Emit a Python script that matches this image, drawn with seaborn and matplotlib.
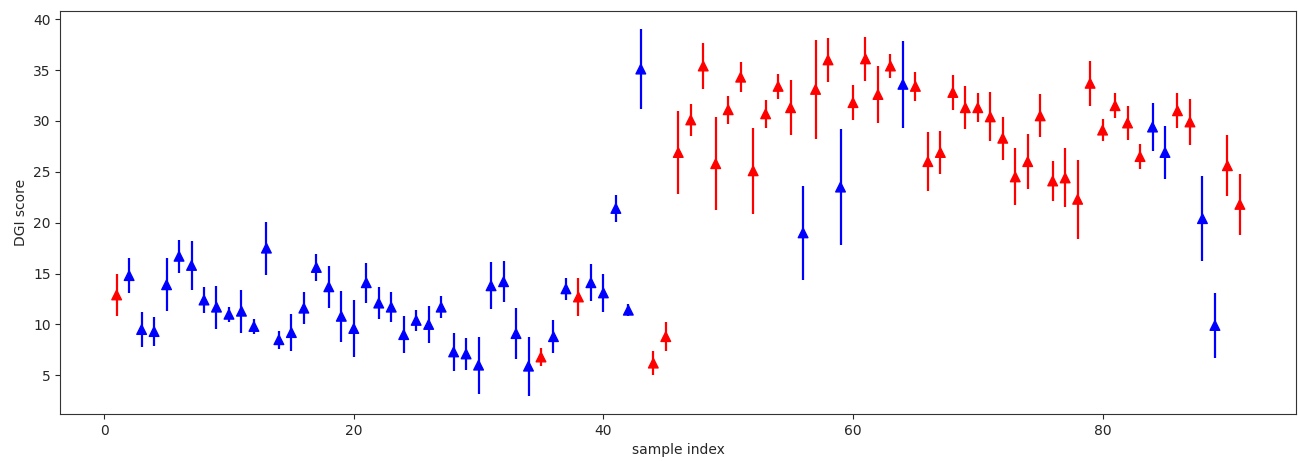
import numpy as np
import pandas as pd
import matplotlib
matplotlib.use("Agg")
import matplotlib.pyplot as plt
import seaborn as sns

sample_index = list(range(1, 92))

dgi_mean = [
    12.9, 14.8, 9.5, 9.3, 13.9, 16.7, 15.8, 12.4, 11.7, 11.0,
    11.3, 9.8, 17.5, 8.5, 9.2, 11.6, 15.6, 13.7, 10.8, 9.6,
    14.1, 12.1, 11.7, 9.0, 10.4, 10.0, 11.7, 7.3, 7.1, 6.0,
    13.8, 14.2, 9.1, 5.9, 6.8, 8.8, 13.5, 12.7, 14.1, 13.1,
    21.4, 11.4, 35.1, 6.2, 8.8, 26.9, 30.1, 35.4, 25.8, 31.1,
    34.3, 25.1, 30.7, 33.4, 31.3, 19.0, 33.1, 36.0, 23.5, 31.8,
    36.1, 32.6, 35.4, 33.6, 33.4, 26.0, 26.9, 32.8, 31.3, 31.3,
    30.4, 28.3, 24.5, 26.0, 30.5, 24.1, 24.4, 22.3, 33.7, 29.1,
    31.5, 29.8, 26.5, 29.4, 26.9, 31.0, 29.9, 20.4, 9.9, 25.6,
    21.8,
]

dgi_err = [
    2.1, 1.7, 1.7, 1.4, 2.6, 1.6, 2.4, 1.3, 2.1, 0.75,
    2.1, 0.75, 2.6, 0.9, 1.8, 1.55, 1.3, 2.05, 2.5, 2.8,
    1.95, 1.55, 1.45, 1.8, 1.05, 1.8, 1.1, 1.9, 1.55, 2.8,
    2.3, 2.0, 2.5, 2.9, 0.9, 1.6, 1.1, 1.9, 1.8, 1.9,
    1.35, 0.6, 3.9, 1.2, 1.4, 4.1, 1.6, 2.3, 4.6, 1.4,
    1.5, 4.2, 1.4, 1.2, 2.7, 4.6, 4.9, 2.15, 5.7, 1.7,
    2.2, 2.8, 1.2, 4.3, 1.4, 2.9, 2.1, 1.7, 2.1, 1.45,
    2.4, 2.1, 2.8, 2.7, 2.1, 2.0, 2.9, 3.9, 2.2, 1.05,
    1.2, 1.7, 1.2, 2.4, 2.6, 1.7, 2.3, 4.2, 3.2, 3.0,
    3.0,
]

red_idx = ([1, 35, 38] + list(range(44, 56)) + [57, 58, 60, 61, 62, 63]
           + list(range(65, 84)) + [86, 87, 90, 91])
point_color = ["red" if i in red_idx else "blue" for i in sample_index]

df = pd.DataFrame({
    "sample index": sample_index,
    "DGI score": dgi_mean,
    "err": dgi_err,
    "group": point_color,
})

sns.set_style("ticks")
plt.rcParams["font.family"] = ["DejaVu Sans"]

fig, ax = plt.subplots(figsize=(12.98, 4.61), dpi=100)
fig.subplots_adjust(left=0.0466, right=0.9985, bottom=0.102, top=0.976)

for grp, sub in df.groupby("group"):
    ax.errorbar(sub["sample index"], sub["DGI score"], yerr=sub["err"],
                fmt="none", ecolor=grp, elinewidth=1.6, capsize=0)

sns.scatterplot(data=df, x="sample index", y="DGI score", hue="group",
                palette={"red": "red", "blue": "blue"}, marker="^",
                s=48, edgecolor="face", linewidth=1.0, legend=False, ax=ax,
                zorder=3)

ax.set_xlabel("sample index", fontsize=10)
ax.set_ylabel("DGI score", fontsize=10)
ax.tick_params(labelsize=10)
for sp in ax.spines.values():
    sp.set_visible(True)
    sp.set_color("#333333")

fig.savefig("out.png", dpi=100)
